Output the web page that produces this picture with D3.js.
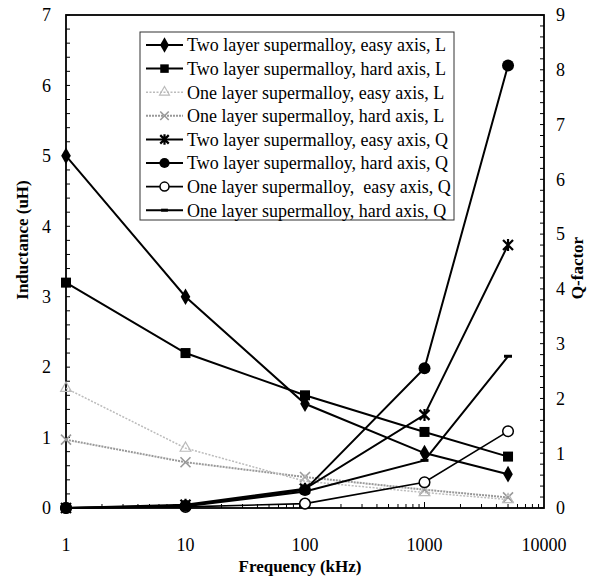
<!DOCTYPE html>
<style>
body { margin: 0; background: #fff; }
text { font-family: "Liberation Serif", "Times New Roman", serif; white-space: pre; }
</style>
<svg id="chart" width="601" height="579"></svg>
<script src="https://d3js.org/d3.v7.min.js"></script>
<script>

var freqs = [1, 10, 100, 1000, 5000];
var names = [
  "Two layer supermalloy, easy axis, L",
  "Two layer supermalloy, hard axis, L",
  "One layer supermalloy, easy axis, L",
  "One layer supermalloy, hard axis, L",
  "Two layer supermalloy, easy axis, Q",
  "Two layer supermalloy, hard axis, Q",
  "One layer supermalloy,  easy axis, Q",
  "One layer supermalloy, hard axis, Q"
];
var twoEasyL = [5.0, 3.0, 1.48, 0.78, 0.48];
var twoHardL = [3.2, 2.2, 1.6, 1.08, 0.73];
var oneEasyL = [1.7, 0.85, 0.38, 0.22, 0.12];
var oneHardL = [0.97, 0.65, 0.44, 0.26, 0.15];
var twoEasyQ = [0, 0.06, 0.35, 1.7, 4.8];
var twoHardQ = [0, 0.04, 0.33, 2.55, 8.08];
var oneEasyQ = [0, 0.02, 0.08, 0.47, 1.4];
var oneHardQ = [0, 0.03, 0.3, 0.87, 2.77];
var leftTicks = [0, 1, 2, 3, 4, 5, 6, 7];
var rightTicks = [0, 1, 2, 3, 4, 5, 6, 7, 8, 9];
var xTicks = [1, 10, 100, 1000, 10000];

var series = [
  {vals: twoEasyL, axis: "L", color: "#000", dash: null, width: 2, marker: "diamond"},
  {vals: twoHardL, axis: "L", color: "#000", dash: null, width: 2, marker: "square"},
  {vals: oneEasyL, axis: "L", color: "#bbb", dash: "2,1.5", width: 1.5, marker: "triangle"},
  {vals: oneHardL, axis: "L", color: "#999", dash: "2,1", width: 2, marker: "x"},
  {vals: twoEasyQ, axis: "Q", color: "#000", dash: null, width: 2, marker: "star"},
  {vals: twoHardQ, axis: "Q", color: "#000", dash: null, width: 2, marker: "circle"},
  {vals: oneEasyQ, axis: "Q", color: "#000", dash: null, width: 1.6, marker: "ocircle"},
  {vals: oneHardQ, axis: "Q", color: "#000", dash: null, width: 2, marker: "dash"}
];

var svg = d3.select("#chart");
var pLeft = 66, pRight = 544, pTop = 15, pBottom = 508;

var x = d3.scaleLog().domain([1, 10000]).range([pLeft, pRight]);
var yL = d3.scaleLinear().domain([0, 7]).range([pBottom, pTop]);
var yQ = d3.scaleLinear().domain([0, 9]).range([pBottom, pTop]);

// frame
svg.append("rect").attr("x", pLeft).attr("y", pTop)
  .attr("width", pRight - pLeft).attr("height", pBottom - pTop)
  .attr("fill", "none").attr("stroke", "#000").attr("stroke-width", 1.8);

// left axis
var minorL = d3.range(0, 7.01, 0.2);
svg.append("g").selectAll("line").data(minorL).enter().append("line")
  .attr("x1", pLeft).attr("x2", pLeft + 4)
  .attr("y1", function(d) { return yL(d); }).attr("y2", function(d) { return yL(d); })
  .attr("stroke", "#000");
svg.append("g").selectAll("text").data(leftTicks).enter().append("text")
  .attr("x", 51).attr("y", function(d) { return yL(d); }).attr("dy", "0.35em")
  .attr("text-anchor", "end").attr("font-size", 18).text(function(d) { return d; });

// right axis
var minorQ = d3.range(0, 9.01, 0.2);
svg.append("g").selectAll("line").data(minorQ).enter().append("line")
  .attr("x1", pRight - 4).attr("x2", pRight)
  .attr("y1", function(d) { return yQ(d); }).attr("y2", function(d) { return yQ(d); })
  .attr("stroke", "#000");
svg.append("g").selectAll("text").data(rightTicks).enter().append("text")
  .attr("x", 556).attr("y", function(d) { return yQ(d); }).attr("dy", "0.35em")
  .attr("text-anchor", "start").attr("font-size", 18).text(function(d) { return d; });

// bottom axis
var minorX = [];
[1, 10, 100, 1000].forEach(function(b) { for (var k = 1; k < 10; k++) minorX.push(b * k); });
svg.append("g").selectAll("line").data(minorX).enter().append("line")
  .attr("x1", function(d) { return x(d); }).attr("x2", function(d) { return x(d); })
  .attr("y1", pBottom).attr("y2", function(d) { return Math.log10(d) % 1 === 0 ? pBottom - 6 : pBottom - 4; })
  .attr("stroke", "#000");
svg.append("g").selectAll("text").data(xTicks).enter().append("text")
  .attr("x", function(d) { return x(d); }).attr("y", 545).attr("dy", "0.35em")
  .attr("text-anchor", "middle").attr("font-size", 18).text(function(d) { return d; });

// titles
svg.append("text").attr("x", 300).attr("y", 572).attr("text-anchor", "middle")
  .attr("font-size", 17).attr("font-weight", "bold").text("Frequency (kHz)");
svg.append("text").attr("transform", "translate(22,240) rotate(-90)").attr("dy", "0.35em")
  .attr("text-anchor", "middle").attr("font-size", 17).attr("font-weight", "bold").text("Inductance (uH)");
svg.append("text").attr("transform", "translate(577,268) rotate(-90)").attr("dy", "0.35em")
  .attr("text-anchor", "middle").attr("font-size", 17).attr("font-weight", "bold").text("Q-factor");

function drawMarker(g, type, color, s) {
  s = s || 1;
  if (type === "diamond") {
    g.append("path").attr("d", d3.symbol().type(d3.symbolDiamond).size(80 * s)).attr("fill", color);
  } else if (type === "square") {
    g.append("rect").attr("x", -5 * s).attr("y", -5 * s).attr("width", 10 * s).attr("height", 10 * s).attr("fill", color);
  } else if (type === "triangle") {
    g.append("path").attr("d", d3.symbol().type(d3.symbolTriangle).size(50 * s))
      .attr("fill", "none").attr("stroke", color).attr("stroke-width", 1.2);
  } else if (type === "x" || type === "star") {
    var r = 5 * s;
    var d = "M" + (-r) + "," + (-r) + "L" + r + "," + r + "M" + (-r) + "," + r + "L" + r + "," + (-r);
    if (type === "star") d += "M0," + (-r - 1) + "L0," + (r + 1);
    g.append("path").attr("d", d).attr("stroke", color).attr("stroke-width", type === "star" ? 2.2 : 1.6).attr("fill", "none");
  } else if (type === "circle") {
    g.append("circle").attr("r", 6 * s).attr("fill", color);
  } else if (type === "ocircle") {
    g.append("circle").attr("r", 5.3 * s).attr("fill", "#fff").attr("stroke", color).attr("stroke-width", 1.5);
  } else if (type === "dash") {
    g.append("line").attr("x1", -4 * s).attr("x2", 4 * s).attr("stroke", color).attr("stroke-width", 3);
  }
}

var plot = svg.append("g");
// gray L series first so black lines sit on top
[3, 2, 0, 1, 7, 6, 4, 5].forEach(function(i) {
  var s = series[i];
  var yS = s.axis === "L" ? yL : yQ;
  var line = d3.line().x(function(d, j) { return x(freqs[j]); }).y(function(d) { return yS(d); });
  plot.append("path").datum(s.vals).attr("d", line)
    .attr("fill", "none").attr("stroke", s.color).attr("stroke-width", s.width)
    .attr("stroke-dasharray", s.dash);
  s.vals.forEach(function(v, j) {
    var g = plot.append("g").attr("transform", "translate(" + x(freqs[j]) + "," + yS(v) + ")");
    drawMarker(g, s.marker, s.color);
  });
});

// legend
var lg = svg.append("g");
lg.append("rect").attr("x", 140).attr("y", 32).attr("width", 314).attr("height", 188)
  .attr("fill", "#fff").attr("stroke", "#333").attr("stroke-width", 1);
series.forEach(function(s, i) {
  var cy = 45 + i * 23.6;
  lg.append("line").attr("x1", 146).attr("x2", 183).attr("y1", cy).attr("y2", cy)
    .attr("stroke", s.color).attr("stroke-width", s.width).attr("stroke-dasharray", s.dash);
  var g = lg.append("g").attr("transform", "translate(164.5," + cy + ")");
  drawMarker(g, s.marker, s.color, 0.85);
  lg.append("text").attr("x", 187).attr("y", cy).attr("dy", "0.35em")
    .attr("font-size", 18).text(names[i]);
});

</script>
